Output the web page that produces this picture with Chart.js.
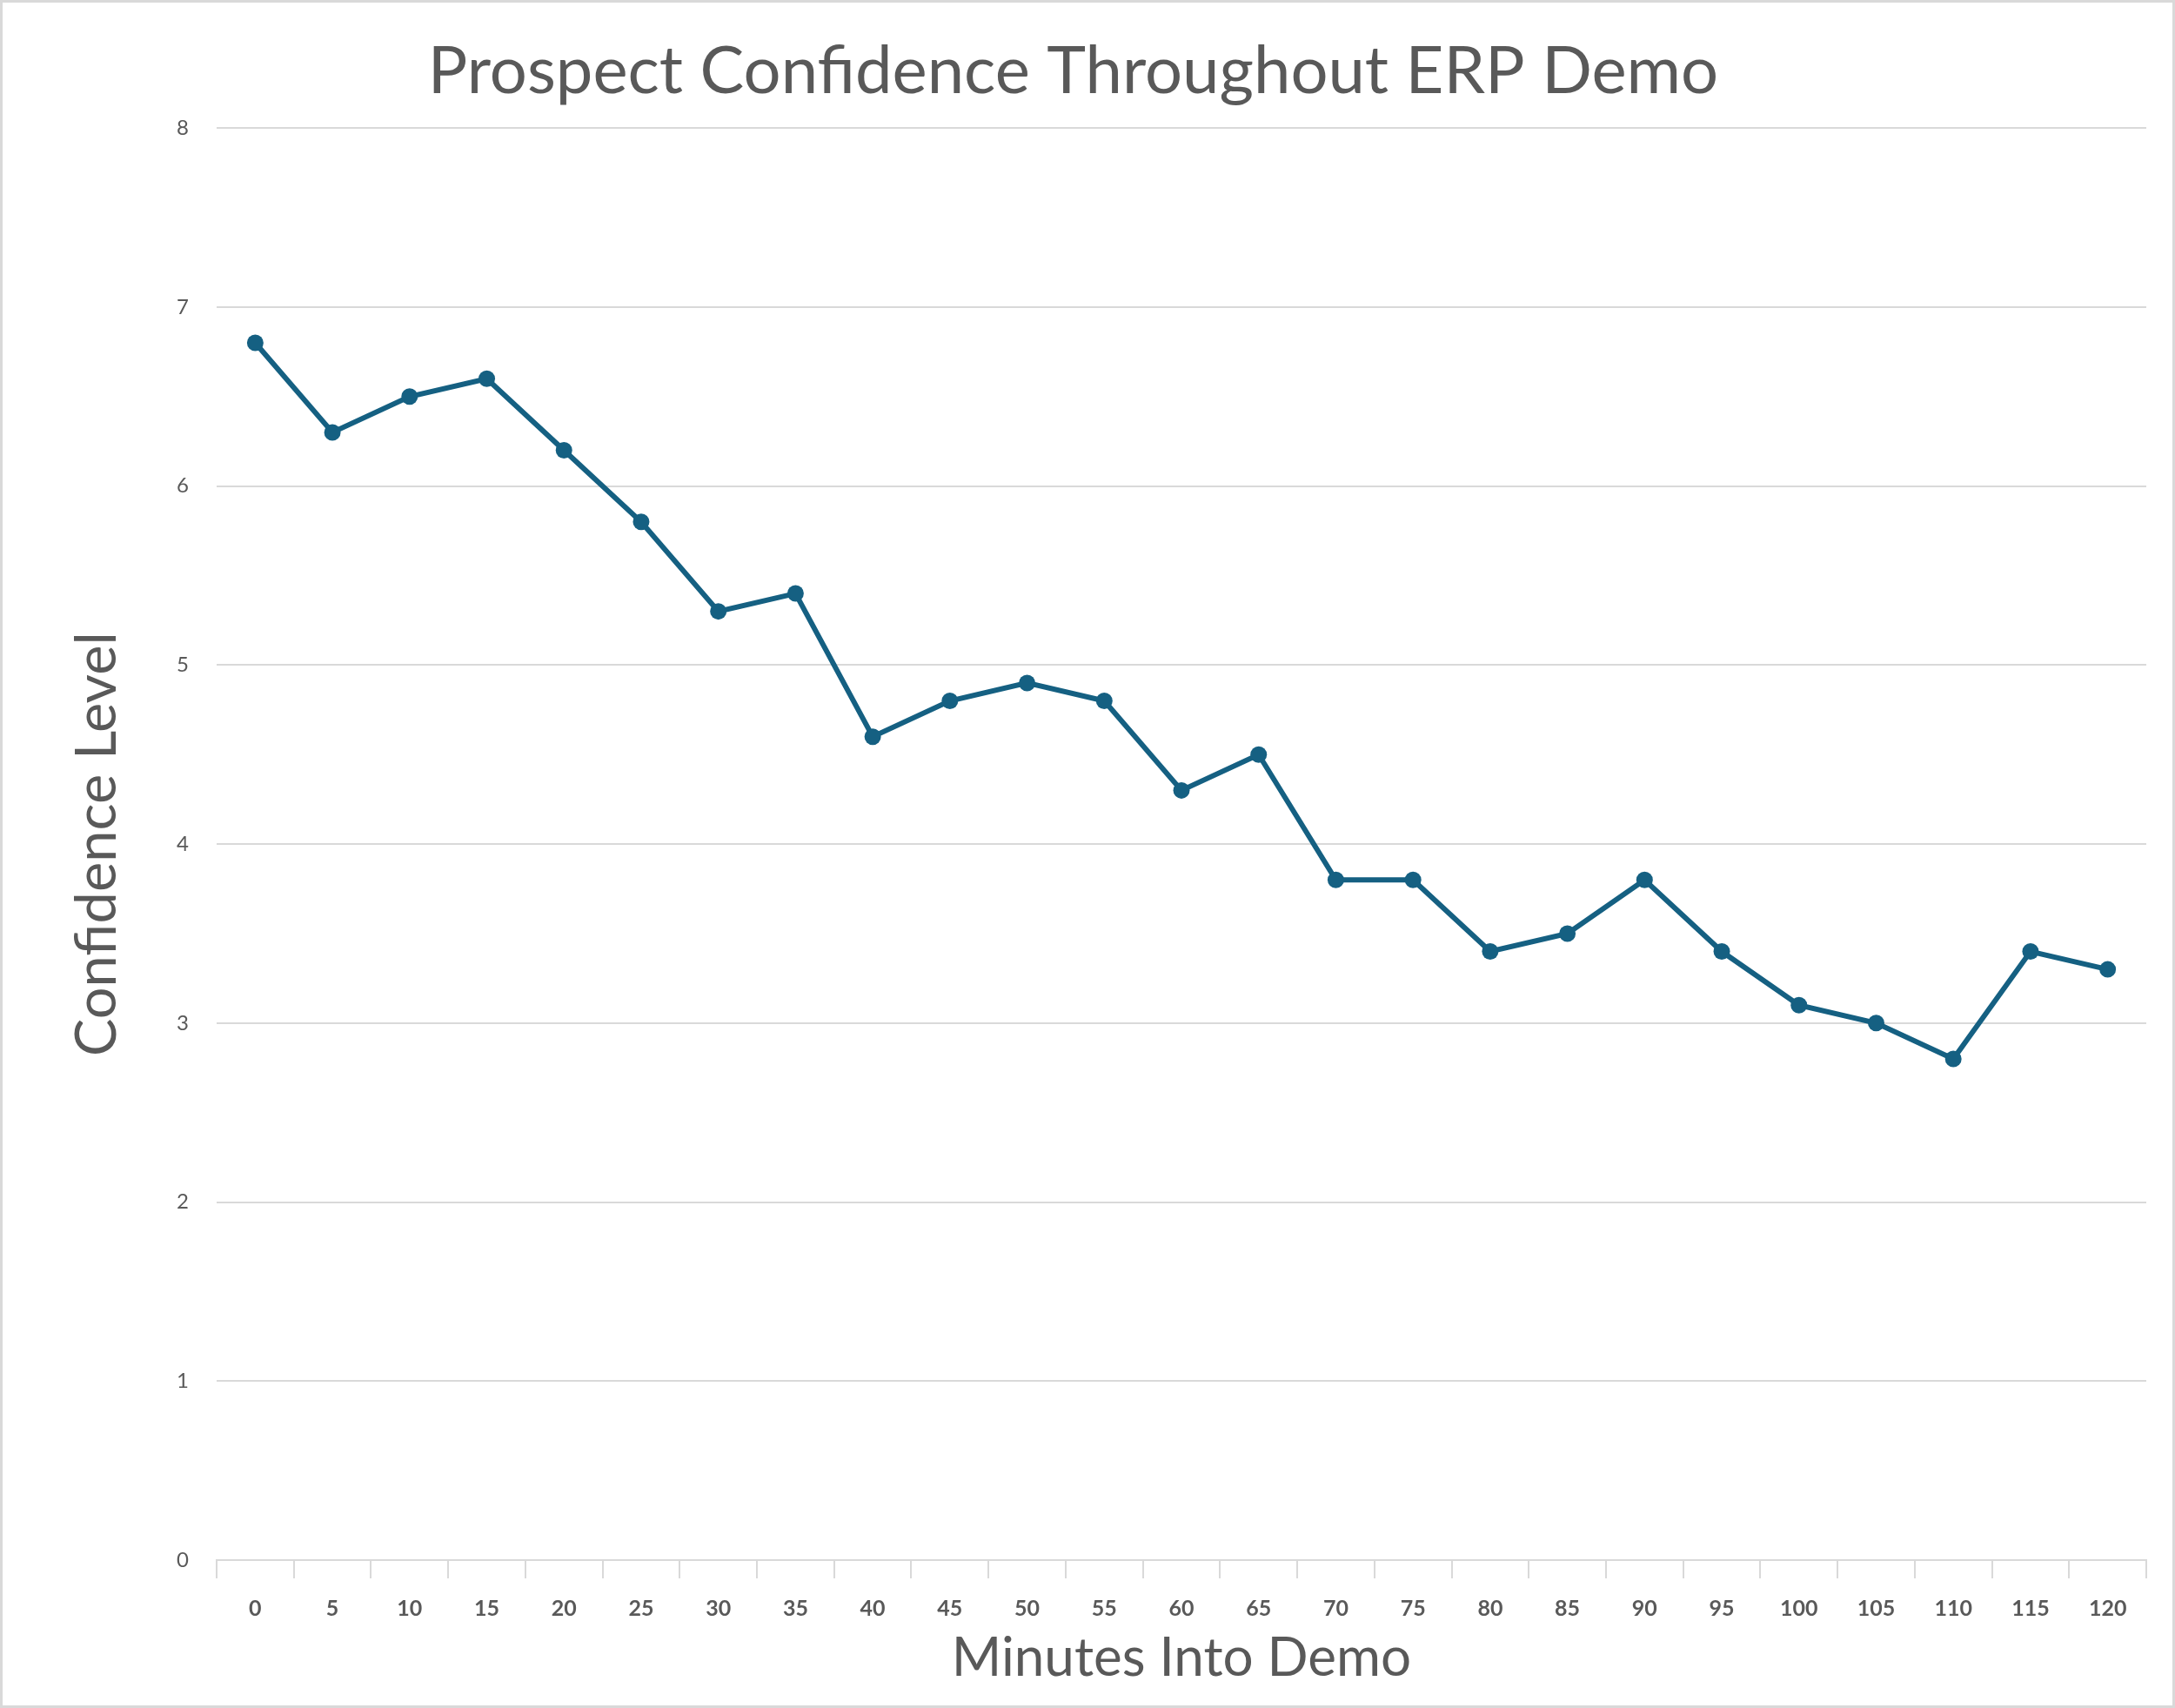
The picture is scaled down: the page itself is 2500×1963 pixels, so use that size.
<!DOCTYPE html>
<html>
<head>
<meta charset="utf-8">
<script src="https://cdn.jsdelivr.net/npm/chart.js@4.4.0/dist/chart.umd.min.js"></script>
<style>
  body { margin: 0; background: #fff; }
  canvas { display: block; }
</style>
</head>
<body>
<canvas id="demoChart" width="2500" height="1963"></canvas>
<script>
// minutes into the demo (category labels)
const minutes = ['0', '5', '10', '15', '20', '25', '30', '35', '40', '45', '50', '55', '60',
                 '65', '70', '75', '80', '85', '90', '95', '100', '105', '110', '115', '120'];
// prospect confidence level at each point
const confidence = [6.8, 6.3, 6.5, 6.6, 6.2, 5.8, 5.3, 5.4, 4.6, 4.8, 4.9, 4.8, 4.3,
                    4.5, 3.8, 3.8, 3.4, 3.5, 3.8, 3.4, 3.1, 3.0, 2.8, 3.4, 3.3];
const yMin = 0;
const yMax = 8;
const yStep = 1;

const lineColor = '#156082';
const textColor = '#595959';
const gridColor = '#d9d9d9';
const fontFamily = 'Lato, "Open Sans", sans-serif';

// light frame around the whole chart, like the Excel chart area
const frame = {
    id: 'frame',
    beforeDraw(chart) {
        const c = chart.ctx;
        c.save();
        c.fillStyle = '#fff';
        c.fillRect(0, 0, chart.width, chart.height);
        c.strokeStyle = gridColor;
        c.lineWidth = 3;
        c.strokeRect(1.5, 1.5, chart.width - 3, chart.height - 3);
        c.restore();
    }
};

const ctx = document.getElementById('demoChart').getContext('2d');
const demoChart = new Chart(ctx, {
    type: 'line',
    data: {
        labels: minutes,
        datasets: [{
            label: 'Confidence Level',
            data: confidence,
            borderColor: lineColor,
            backgroundColor: lineColor,
            borderWidth: 6,
            pointRadius: 9.5,
            pointBorderWidth: 0,
            pointBackgroundColor: lineColor,
            tension: 0
        }]
    },
    options: {
        responsive: false,
        animation: false,
        devicePixelRatio: 1,
        layout: { padding: { top: 0, left: 0, right: 33, bottom: 0 } },
        plugins: {
            legend: { display: false },
            tooltip: { enabled: false },
            title: {
                display: true,
                text: 'Prospect Confidence Throughout ERP Demo',
                color: textColor,
                font: { family: fontFamily, size: 76, weight: 'normal', lineHeight: 1.2 },
                padding: { top: 37, bottom: 19 }
            }
        },
        scales: {
            x: {
                offset: true,
                grid: {
                    offset: true,
                    drawOnChartArea: false,
                    drawTicks: true,
                    tickLength: 21,
                    color: gridColor,
                    lineWidth: 2
                },
                border: { color: gridColor, width: 2 },
                ticks: {
                    color: textColor,
                    font: { family: fontFamily, size: 25, weight: 'bold' },
                    padding: 20,
                    maxRotation: 0,
                    autoSkip: false
                },
                title: {
                    display: true,
                    text: 'Minutes Into Demo',
                    color: textColor,
                    font: { family: fontFamily, size: 62, weight: 'normal', lineHeight: 1.2 },
                    padding: { top: 0, bottom: 20 }
                },
                afterFit(scale) { scale.height = 170; }
            },
            y: {
                min: yMin,
                max: yMax,
                ticks: {
                    stepSize: yStep,
                    color: textColor,
                    font: { family: fontFamily, size: 24 },
                    padding: 32
                },
                grid: { color: gridColor, lineWidth: 2, drawTicks: false },
                border: { display: false },
                title: {
                    display: true,
                    text: 'Confidence Level',
                    color: textColor,
                    font: { family: fontFamily, size: 65, weight: 'normal', lineHeight: 1.2 },
                    padding: { top: 73, bottom: 0 }
                },
                afterFit(scale) { scale.width = 249; }
            }
        }
    },
    plugins: [frame]
});
</script>
</body>
</html>
